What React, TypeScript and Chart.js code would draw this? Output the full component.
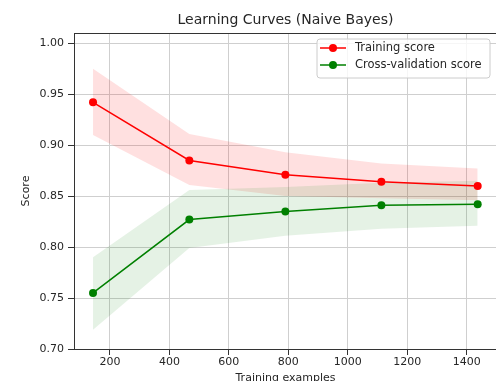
import React, { useEffect, useRef } from "react";
import { Chart, registerables } from "chart.js";

Chart.register(...registerables);

const chartTitle = "Learning Curves (Naive Bayes)";
const xTitle = "Training examples";
const yTitle = "Score";
const seriesNames = ["Training score", "Cross-validation score"];

const trainSizes = [143, 467, 790, 1113, 1437];
const trainMean = [0.942, 0.885, 0.871, 0.864, 0.86];
const trainUpper = [0.975, 0.911, 0.893, 0.882, 0.877];
const trainLower = [0.91, 0.861, 0.85, 0.848, 0.846];
const cvMean = [0.755, 0.827, 0.835, 0.841, 0.842];
const cvUpper = [0.79, 0.856, 0.859, 0.863, 0.865];
const cvLower = [0.719, 0.799, 0.811, 0.818, 0.821];

const xTicks = [200, 400, 600, 800, 1000, 1200, 1400];
const yTicks = [0.7, 0.75, 0.8, 0.85, 0.9, 0.95, 1.0];
const xRange = [79, 1502];
const yRange = [0.7, 1.01];

const FONT = "'DejaVu Sans', sans-serif";
const RED = "#ff0000";
const GREEN = "#008000";
const TEXT = "#262626";

const pts = (ys: number[]) => trainSizes.map((x, i) => ({ x, y: ys[i] }));

const decorPlugin = {
  id: "decor",
  afterDatasetsDraw(chart: any) {
    const { ctx, chartArea: a } = chart;
    ctx.save();
    ctx.strokeStyle = "#333";
    ctx.lineWidth = 1;
    ctx.beginPath();
    ctx.moveTo(a.left, Math.round(a.top) + 0.5);
    ctx.lineTo(a.right, Math.round(a.top) + 0.5);
    ctx.moveTo(Math.round(a.right) - 0.5, a.top);
    ctx.lineTo(Math.round(a.right) - 0.5, a.bottom);
    ctx.stroke();
    ctx.restore();
  },
  afterDraw(chart: any) {
    const { ctx, chartArea: a } = chart;
    ctx.save();
    // title
    ctx.fillStyle = TEXT;
    ctx.font = `14px ${FONT}`;
    ctx.textAlign = "center";
    ctx.textBaseline = "middle";
    ctx.fillText(chartTitle, (a.left + a.right) / 2, 20);

    // legend
    const bx = 317, by = 39, bw = 173, bh = 39, r = 3;
    ctx.beginPath();
    ctx.moveTo(bx + r, by);
    ctx.lineTo(bx + bw - r, by);
    ctx.arcTo(bx + bw, by, bx + bw, by + r, r);
    ctx.lineTo(bx + bw, by + bh - r);
    ctx.arcTo(bx + bw, by + bh, bx + bw - r, by + bh, r);
    ctx.lineTo(bx + r, by + bh);
    ctx.arcTo(bx, by + bh, bx, by + bh - r, r);
    ctx.lineTo(bx, by + r);
    ctx.arcTo(bx, by, bx + r, by, r);
    ctx.closePath();
    ctx.fillStyle = "rgba(255,255,255,0.8)";
    ctx.fill();
    ctx.strokeStyle = "#cccccc";
    ctx.lineWidth = 1;
    ctx.stroke();

    const colors = [RED, GREEN];
    seriesNames.forEach((name, i) => {
      const y = 48 + i * 17;
      ctx.strokeStyle = colors[i];
      ctx.lineWidth = 1.5;
      ctx.beginPath();
      ctx.moveTo(320, y);
      ctx.lineTo(346, y);
      ctx.stroke();
      ctx.fillStyle = colors[i];
      ctx.beginPath();
      ctx.arc(333, y, 4, 0, Math.PI * 2);
      ctx.fill();
      ctx.fillStyle = TEXT;
      ctx.font = `11.5px ${FONT}`;
      ctx.textAlign = "left";
      ctx.textBaseline = "middle";
      ctx.fillText(name, 355, y);
    });
    ctx.restore();
  },
};

export default function App() {
  const ref = useRef<HTMLCanvasElement>(null);
  useEffect(() => {
    if (!ref.current) return;
    const meanLine = (label: string, ys: number[], color: string) => ({
      label,
      data: pts(ys),
      borderColor: color,
      backgroundColor: color,
      borderWidth: 1.5,
      pointRadius: 4,
      pointBorderWidth: 0,
      pointBackgroundColor: color,
      fill: false,
      tension: 0,
    });
    const bound = (ys: number[], fill: any, bg: string) => ({
      label: "",
      data: pts(ys),
      borderWidth: 0,
      borderColor: "rgba(0,0,0,0)",
      pointRadius: 0,
      backgroundColor: bg,
      fill,
      tension: 0,
    });
    const chart = new Chart(ref.current, {
      type: "line",
      data: {
        datasets: [
          meanLine(seriesNames[1], cvMean, GREEN),
          meanLine(seriesNames[0], trainMean, RED),
          bound(cvUpper, false, "rgba(0,0,0,0)"),
          bound(cvLower, 2, "rgba(0,128,0,0.1)"),
          bound(trainUpper, false, "rgba(0,0,0,0)"),
          bound(trainLower, 4, "rgba(255,0,0,0.12)"),
        ] as any,
      },
      options: {
        responsive: false,
        animation: false,
        devicePixelRatio: 1,
        layout: { autoPadding: false, padding: { left: 0, right: 1, top: 33, bottom: 0 } },
        plugins: {
          legend: { display: false },
          title: { display: false },
          tooltip: { enabled: false },
        },
        scales: {
          x: {
            type: "linear",
            min: xRange[0],
            max: xRange[1],
            afterBuildTicks: (s: any) => {
              s.ticks = xTicks.map((v) => ({ value: v }));
            },
            afterFit: (s: any) => {
              s.height = 43;
              s.paddingLeft = 0;
              s.paddingRight = 0;
            },
            ticks: {
              color: TEXT,
              font: { family: FONT, size: 11 },
              padding: 1,
              maxRotation: 0,
              autoSkip: false,
              callback: (v: any) => String(v),
            },
            grid: { color: "#cfcfcf", lineWidth: 1, tickLength: 6, tickColor: "#333" },
            border: { color: "#333", width: 1 },
            title: {
              display: true,
              text: xTitle,
              color: TEXT,
              font: { family: FONT, size: 11 },
              padding: { top: 0, bottom: 7 },
            },
          },
          y: {
            type: "linear",
            min: yRange[0],
            max: yRange[1],
            afterBuildTicks: (s: any) => {
              s.ticks = yTicks.map((v) => ({ value: v }));
            },
            afterFit: (s: any) => {
              s.width = 74;
            },
            ticks: {
              color: TEXT,
              font: { family: FONT, size: 11 },
              padding: 4,
              autoSkip: false,
              callback: (v: any) => Number(v).toFixed(2),
            },
            grid: { color: "#cfcfcf", lineWidth: 1, tickLength: 6, tickColor: "#333" },
            border: { color: "#333", width: 1 },
            title: {
              display: true,
              text: yTitle,
              color: TEXT,
              font: { family: FONT, size: 11 },
              padding: { top: 20, bottom: 0 },
            },
          },
        },
      },
      plugins: [decorPlugin],
    });
    return () => chart.destroy();
  }, []);
  return (
    <div
      style={{
        position: "fixed",
        left: 0,
        top: 0,
        width: 496,
        height: 381,
        overflow: "hidden",
        background: "#fff",
      }}
    >
      <canvas ref={ref} width={498} height={392} style={{ display: "block" }} />
    </div>
  );
}
